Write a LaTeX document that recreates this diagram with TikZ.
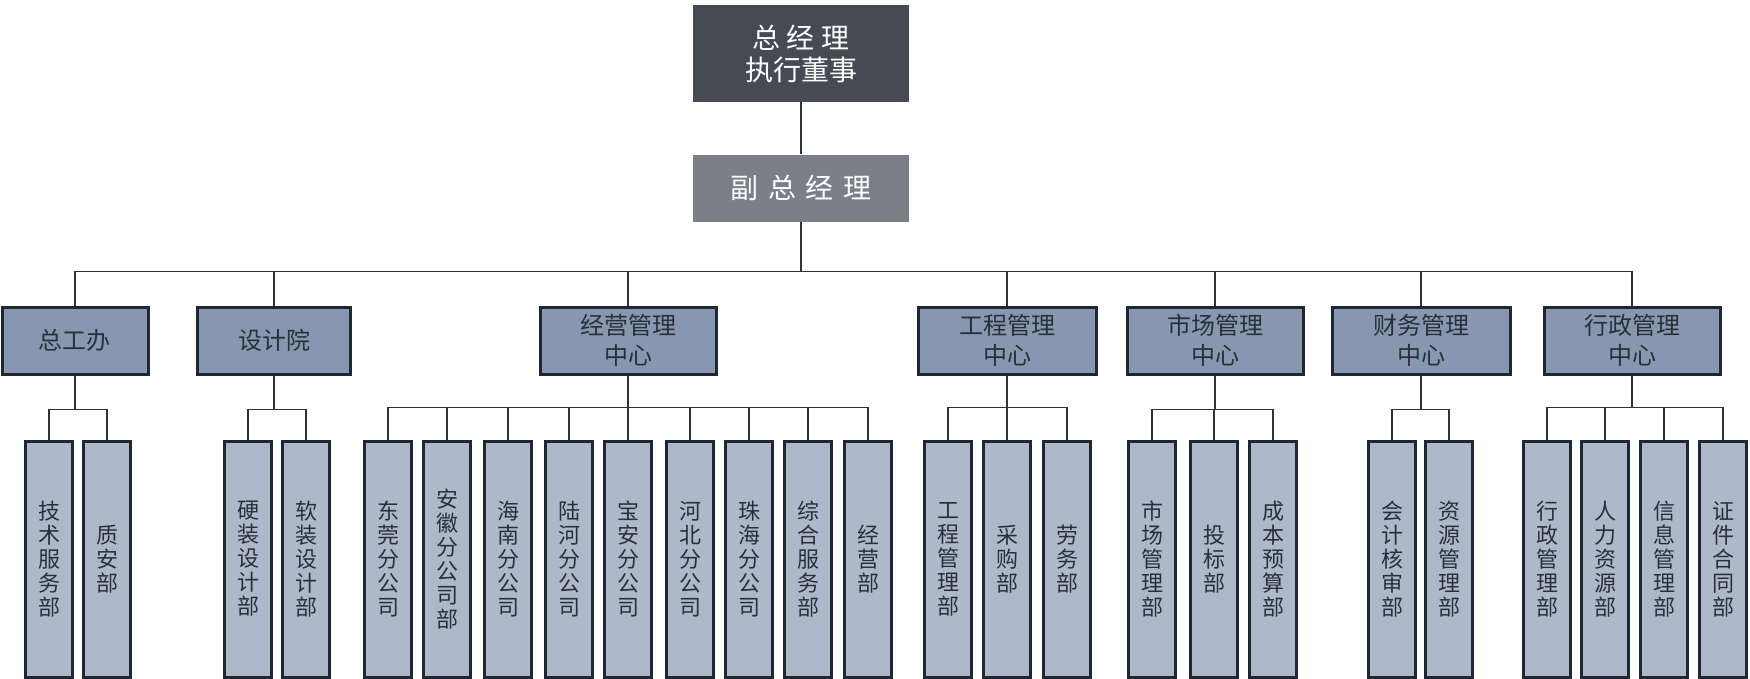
\documentclass[tikz,border=0pt]{standalone}
\usepackage{fontspec}
\setmainfont{Noto Sans CJK SC}
\newfontfamily\widecjk[WordSpace=1.5]{Noto Sans CJK SC}
\usepackage{tikz}
\usetikzlibrary{positioning}
\definecolor{topdark}{HTML}{454A53}
\definecolor{vicegrey}{HTML}{7B7F87}
\definecolor{deptfill}{HTML}{8797B0}
\definecolor{unitfill}{HTML}{ADB8C9}
\definecolor{rim}{HTML}{1F2733}
\definecolor{ink}{HTML}{2A303A}
\definecolor{wire}{HTML}{2E333B}
\tikzset{
    %Define style for the top boxes
    gmbox/.style={
           rectangle,
           fill=topdark,
           text=white,
           minimum width=108pt,
           minimum height=48.5pt,
           inner sep=0pt,
           font=\fontsize{14}{16}\selectfont,
           align=center},
    vicebox/.style={
           rectangle,
           fill=vicegrey,
           text=white,
           minimum width=108pt,
           minimum height=33.5pt,
           inner sep=0pt,
           font=\widecjk\fontsize{14}{16}\selectfont,
           align=center},
    %Define style for the centres
    deptbox/.style={
           rectangle,
           draw=rim, line width=1.5pt,
           fill=deptfill,
           text=ink,
           minimum height=33.5pt,
           inner sep=0pt,
           font=\fontsize{12}{15}\selectfont,
           align=center},
    %Define style for the departments
    unitbox/.style={
           rectangle,
           draw=rim, line width=1.5pt,
           fill=unitfill,
           text=ink,
           minimum width=23.5pt,
           minimum height=118pt,
           inner sep=0pt,
           text width=12pt,
           font=\fontsize{11}{12}\selectfont,
           align=center},
    % Define connector style
    branch/.style={
           to path={(\tikztostart.south) -- ++(0,#1) -| (\tikztotarget.north)}},
}
\begin{document}
\begin{tikzpicture}[x=0.5pt,y=-0.5pt,node distance=26pt]
\useasboundingbox (0,0) rectangle (1750,679);
\node[gmbox](gm) at (801,53.5){总 经 理\\执行董事};
\node[vicebox, below=of gm](vgm){副 总 经 理};
\node[deptbox, minimum width=73pt](d1) at (75,340.5){总工办};
\node[deptbox, minimum width=76.5pt](d2) at (274,340.5){设计院};
\node[deptbox, minimum width=88pt](d3) at (628,340.5){经营管理\\中心};
\node[deptbox, minimum width=89pt](d4) at (1007,340.5){工程管理\\中心};
\node[deptbox, minimum width=88pt](d5) at (1215,340.5){市场管理\\中心};
\node[deptbox, minimum width=89pt](d6) at (1421,340.5){财务管理\\中心};
\node[deptbox, minimum width=88pt](d7) at (1632,340.5){行政管理\\中心};
% departments
\node[unitbox](u11) at (49,559){技\\术\\服\\务\\部};
\node[unitbox](u12) at (107,559){质\\安\\部};
\node[unitbox](u21) at (248,559){硬\\装\\设\\计\\部};
\node[unitbox](u22) at (306,559){软\\装\\设\\计\\部};
\node[unitbox](u31) at (388,559){东\\莞\\分\\公\\司};
\node[unitbox](u32) at (447,559){安\\徽\\分\\公\\司\\部};
\node[unitbox](u33) at (508,559){海\\南\\分\\公\\司};
\node[unitbox](u34) at (569,559){陆\\河\\分\\公\\司};
\node[unitbox](u35) at (628,559){宝\\安\\分\\公\\司};
\node[unitbox](u36) at (690,559){河\\北\\分\\公\\司};
\node[unitbox](u37) at (749,559){珠\\海\\分\\公\\司};
\node[unitbox](u38) at (808,559){综\\合\\服\\务\\部};
\node[unitbox](u39) at (868,559){经\\营\\部};
\node[unitbox](u41) at (948,559){工\\程\\管\\理\\部};
\node[unitbox](u42) at (1007,559){采\\购\\部};
\node[unitbox](u43) at (1067,559){劳\\务\\部};
\node[unitbox](u51) at (1152,559){市\\场\\管\\理\\部};
\node[unitbox](u52) at (1214,559){投\\标\\部};
\node[unitbox](u53) at (1273,559){成\\本\\预\\算\\部};
\node[unitbox](u61) at (1392,559){会\\计\\核\\审\\部};
\node[unitbox](u62) at (1449,559){资\\源\\管\\理\\部};
\node[unitbox](u71) at (1547,559){行\\政\\管\\理\\部};
\node[unitbox](u72) at (1605,559){人\\力\\资\\源\\部};
\node[unitbox](u73) at (1664,559){信\\息\\管\\理\\部};
\node[unitbox](u74) at (1723,559){证\\件\\合\\同\\部};
 \path[draw=wire, line width=0.65pt]
    (gm) edge (vgm)
    (vgm) edge[branch=49] (d1)
    (vgm) edge[branch=49] (d2)
    (vgm) edge[branch=49] (d3)
    (vgm) edge[branch=49] (d4)
    (vgm) edge[branch=49] (d5)
    (vgm) edge[branch=49] (d6)
    (vgm) edge[branch=49] (d7)
    (d1) edge[branch=34] (u11)
    (d1) edge[branch=34] (u12)
    (d2) edge[branch=34] (u21)
    (d2) edge[branch=34] (u22)
    (d3) edge[branch=32] (u31)
    (d3) edge[branch=32] (u32)
    (d3) edge[branch=32] (u33)
    (d3) edge[branch=32] (u34)
    (d3) edge[branch=32] (u35)
    (d3) edge[branch=32] (u36)
    (d3) edge[branch=32] (u37)
    (d3) edge[branch=32] (u38)
    (d3) edge[branch=32] (u39)
    (d4) edge[branch=32] (u41)
    (d4) edge[branch=32] (u42)
    (d4) edge[branch=32] (u43)
    (d5) edge[branch=34] (u51)
    (d5) edge[branch=34] (u52)
    (d5) edge[branch=34] (u53)
    (d6) edge[branch=34] (u61)
    (d6) edge[branch=34] (u62)
    (d7) edge[branch=32] (u71)
    (d7) edge[branch=32] (u72)
    (d7) edge[branch=32] (u73)
    (d7) edge[branch=32] (u74);
\end{tikzpicture}
\end{document}
